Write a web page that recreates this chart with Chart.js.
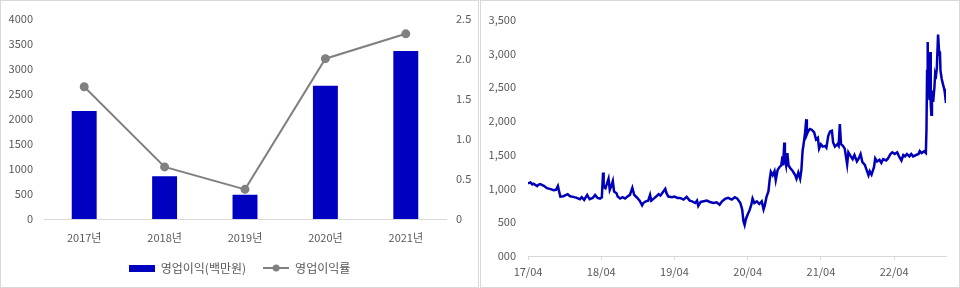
<!DOCTYPE html>
<html>
<head>
<meta charset="utf-8">
<script src="https://cdn.jsdelivr.net/npm/chart.js@4.4.0/dist/chart.umd.min.js"></script>
<style>
body { margin: 0; background: #fff; }
.panel { position: absolute; top: 0; height: 286px; border: 1px solid #d9d9d9; background: #fff; }
#p1 { left: 0; width: 477px; }
#p2 { left: 480px; width: 478px; }
</style>
</head>
<body>
<div class="panel" id="p1"><canvas id="profitChart"></canvas></div>
<div class="panel" id="p2"><canvas id="priceChart"></canvas></div>
<script>
// left: operating profit (bars) and margin (line)
var years = ['2017년', '2018년', '2019년', '2020년', '2021년'];
var operatingProfit = [2155, 855, 485, 2660, 3355];
var profitRate = [1.65, 0.65, 0.37, 2.0, 2.31];

// right: share price, [months since 17/04, price]
var priceSeries = [
[0,1075],[0.4,1090],[0.7,1060],[0.9,1070],[1.5,1035],[1.7,1055],[2.0,1065],[2.6,1040],[3.1,1005],[3.7,990],
[4.2,975],[4.6,980],[4.9,1035],[5.1,955],[5.3,880],[5.8,885],[6.5,915],[6.9,885],[7.4,875],[8.0,860],
[8.5,840],[8.8,870],[9.2,830],[9.7,905],[10.1,840],[10.6,860],[11.0,905],[11.4,860],[11.8,850],[12.1,870],
[12.3,1235],[12.4,1025],[12.7,1005],[12.9,1060],[13.2,1145],[13.4,980],[13.6,1025],[13.9,1110],[14.1,955],[14.5,930],
[14.7,880],[15.1,850],[15.5,870],[15.9,850],[16.3,880],[16.7,905],[17.1,1010],[17.4,905],[17.8,870],[18.3,820],
[18.7,750],[18.9,785],[19.3,810],[19.7,820],[20.0,905],[20.2,820],[20.6,850],[21.0,880],[21.4,915],[21.7,895],
[22.1,945],[22.5,995],[22.7,930],[23.0,880],[23.6,870],[24.0,880],[24.5,860],[24.9,860],[25.5,835],[26.0,875],
[26.5,820],[26.9,810],[27.4,785],[27.7,820],[27.9,740],[28.3,800],[28.8,810],[29.3,820],[29.8,800],[30.4,785],
[30.9,795],[31.4,760],[31.8,810],[32.3,845],[32.8,860],[33.4,835],[33.9,870],[34.3,850],[34.8,785],[35.1,690],
[35.3,520],[35.5,460],[35.7,545],[36.0,615],[36.3,675],[36.6,760],[36.8,850],[37.1,785],[37.5,810],[37.9,770],
[38.3,810],[38.6,690],[38.8,750],[39.1,880],[39.4,955],[39.6,1125],[39.8,1245],[40.1,1195],[40.4,1255],[40.6,1125],
[40.9,1270],[41.2,1315],[41.5,1340],[41.7,1475],[41.8,1340],[42.0,1680],[42.1,1435],[42.3,1340],[42.5,1525],[42.7,1340],
[43.0,1300],[43.4,1255],[43.8,1195],[44.0,1145],[44.3,1235],[44.6,1145],[44.8,1270],[45.0,1555],[45.2,1680],[45.4,1820],
[45.6,2025],[45.7,1800],[45.9,1845],[46.2,1880],[46.5,1870],[46.9,1830],[47.2,1725],[47.5,1750],[47.7,1590],[48.0,1655],
[48.3,1620],[48.7,1630],[48.9,1605],[49.2,1775],[49.5,1845],[49.8,1855],[50.0,1680],[50.3,1620],[50.7,1655],[50.9,1630],
[51.1,1955],[51.3,1655],[51.6,1630],[51.9,1590],[52.1,1475],[52.3,1355],[52.5,1535],[52.9,1475],[53.2,1435],[53.5,1495],
[53.9,1400],[54.2,1445],[54.5,1510],[54.8,1390],[55.2,1350],[55.5,1270],[55.8,1195],[56.0,1255],[56.3,1205],[56.7,1315],
[56.9,1445],[57.2,1400],[57.6,1425],[57.9,1380],[58.2,1435],[58.7,1415],[59.0,1445],[59.4,1510],[59.7,1535],[60.1,1510],
[60.5,1535],[60.8,1475],[61.2,1415],[61.5,1495],[61.8,1475],[62.1,1510],[62.5,1475],[62.8,1510],[63.1,1475],[63.6,1495],
[64.0,1510],[64.2,1555],[64.5,1525],[64.9,1550],[65.2,1525],[65.3,1870],[65.4,2740],[65.5,3170],[65.6,2355],[65.7,2835],
[65.8,2305],[65.9,3020],[66.0,2255],[66.1,2090],[66.2,2450],[66.4,2280],[66.6,2495],[66.7,2665],[66.8,2620],[67.0,2785],
[67.2,3280],[67.4,2980],[67.5,3030],[67.6,2740],[67.8,2620],[68.0,2545],[68.2,2475],[68.3,2425],[68.5,2265]
];
var tickMonths = [0, 12, 24, 36, 48, 60];
var tickLabels = ['17/04', '18/04', '19/04', '20/04', '21/04', '22/04'];

var barBlue = '#0000c0';
var lineGrey = '#808080';
var priceBlue = '#0000b8';
var axisGrey = '#d9d9d9';
var textGrey = '#595959';

Chart.defaults.font.family = '"Noto Sans CJK KR", "Noto Sans", sans-serif';
Chart.defaults.font.size = 11;
Chart.defaults.color = textGrey;

function swatch(kind) {
  var c = document.createElement('canvas');
  c.width = 26; c.height = 8;
  var g = c.getContext('2d');
  if (kind == 'bar') {
    g.fillStyle = barBlue;
    g.fillRect(0, 1, 26, 7);
  } else {
    g.strokeStyle = lineGrey; g.lineWidth = 2;
    g.beginPath(); g.moveTo(0, 4); g.lineTo(26, 4); g.stroke();
    g.fillStyle = lineGrey;
    g.beginPath(); g.arc(13, 4, 3.5, 0, Math.PI * 2); g.fill();
  }
  return c;
}

var ctxL = document.getElementById('profitChart').getContext('2d');
var profitChart = new Chart(ctxL, {
  type: 'bar',
  data: {
    labels: years,
    datasets: [{
      type: 'bar',
      label: '영업이익(백만원)',
      data: operatingProfit,
      yAxisID: 'y',
      backgroundColor: barBlue,
      barPercentage: 0.31,
      categoryPercentage: 1,
      order: 2
    }, {
      type: 'line',
      label: '영업이익률',
      data: profitRate,
      yAxisID: 'y1',
      borderColor: lineGrey,
      backgroundColor: lineGrey,
      borderWidth: 2,
      pointRadius: 3.5,
      pointHoverRadius: 3.5,
      order: 1
    }]
  },
  options: {
    responsive: true,
    maintainAspectRatio: false,
    animation: false,
    layout: { padding: { top: 13, right: 0, bottom: 3, left: 0 } },
    plugins: {
      tooltip: { enabled: false },
      legend: {
        position: 'bottom',
        labels: {
          usePointStyle: true,
          pointStyleWidth: 26,
          boxHeight: 8,
          padding: 17,
          font: { size: 12 },
          generateLabels: function(chart) {
            var items = Chart.defaults.plugins.legend.labels.generateLabels(chart);
            items.forEach(function(it) {
              it.pointStyle = swatch(it.datasetIndex === 0 ? 'bar' : 'line');
            });
            return items;
          },
          sort: function(a, b) { return a.datasetIndex - b.datasetIndex; }
        }
      }
    },
    scales: {
      x: {
        offset: true,
        grid: { display: false, drawTicks: false },
        border: { color: axisGrey },
        ticks: { padding: 12 },
        afterFit: function(s) { s.height = 26; }
      },
      y: {
        position: 'left',
        min: 0, max: 4000,
        ticks: { stepSize: 500, padding: 11, callback: function(v) { return String(v); } },
        grid: { display: false, drawTicks: false },
        border: { display: false },
        afterFit: function(s) { s.width = 43; }
      },
      y1: {
        position: 'right',
        min: 0, max: 2.5,
        ticks: { stepSize: 0.5, padding: 10 },
        grid: { display: false, drawTicks: false },
        border: { display: false },
        afterFit: function(s) { s.width = 32; }
      }
    }
  }
});

var ctxR = document.getElementById('priceChart').getContext('2d');
var priceChart = new Chart(ctxR, {
  type: 'line',
  data: {
    datasets: [{
      label: '주가',
      data: priceSeries.map(function(p) { return { x: p[0], y: p[1] }; }),
      borderColor: priceBlue,
      borderWidth: 2.5,
      pointRadius: 0,
      tension: 0
    }]
  },
  options: {
    responsive: true,
    maintainAspectRatio: false,
    animation: false,
    layout: { padding: { top: 13, right: 13, bottom: 0, left: 0 } },
    plugins: { legend: { display: false }, tooltip: { enabled: false } },
    scales: {
      x: {
        type: 'linear',
        min: 0, max: 68.5,
        afterBuildTicks: function(s) { s.ticks = tickMonths.map(function(v) { return { value: v }; }); },
        ticks: {
          padding: 5, maxRotation: 0, autoSkip: false,
          callback: function(v) { return tickLabels[tickMonths.indexOf(v)]; }
        },
        grid: { drawOnChartArea: false, drawTicks: true, tickLength: 4, color: axisGrey },
        border: { color: axisGrey },
        afterFit: function(s) { s.height = 31; }
      },
      y: {
        min: 0, max: 3500,
        ticks: {
          stepSize: 500, padding: 12,
          callback: function(v) { return v === 0 ? '000' : v.toLocaleString('en-US'); }
        },
        grid: { display: false, drawTicks: false },
        border: { display: false },
        afterFit: function(s) { s.width = 47; }
      }
    }
  }
});
</script>
</body>
</html>
